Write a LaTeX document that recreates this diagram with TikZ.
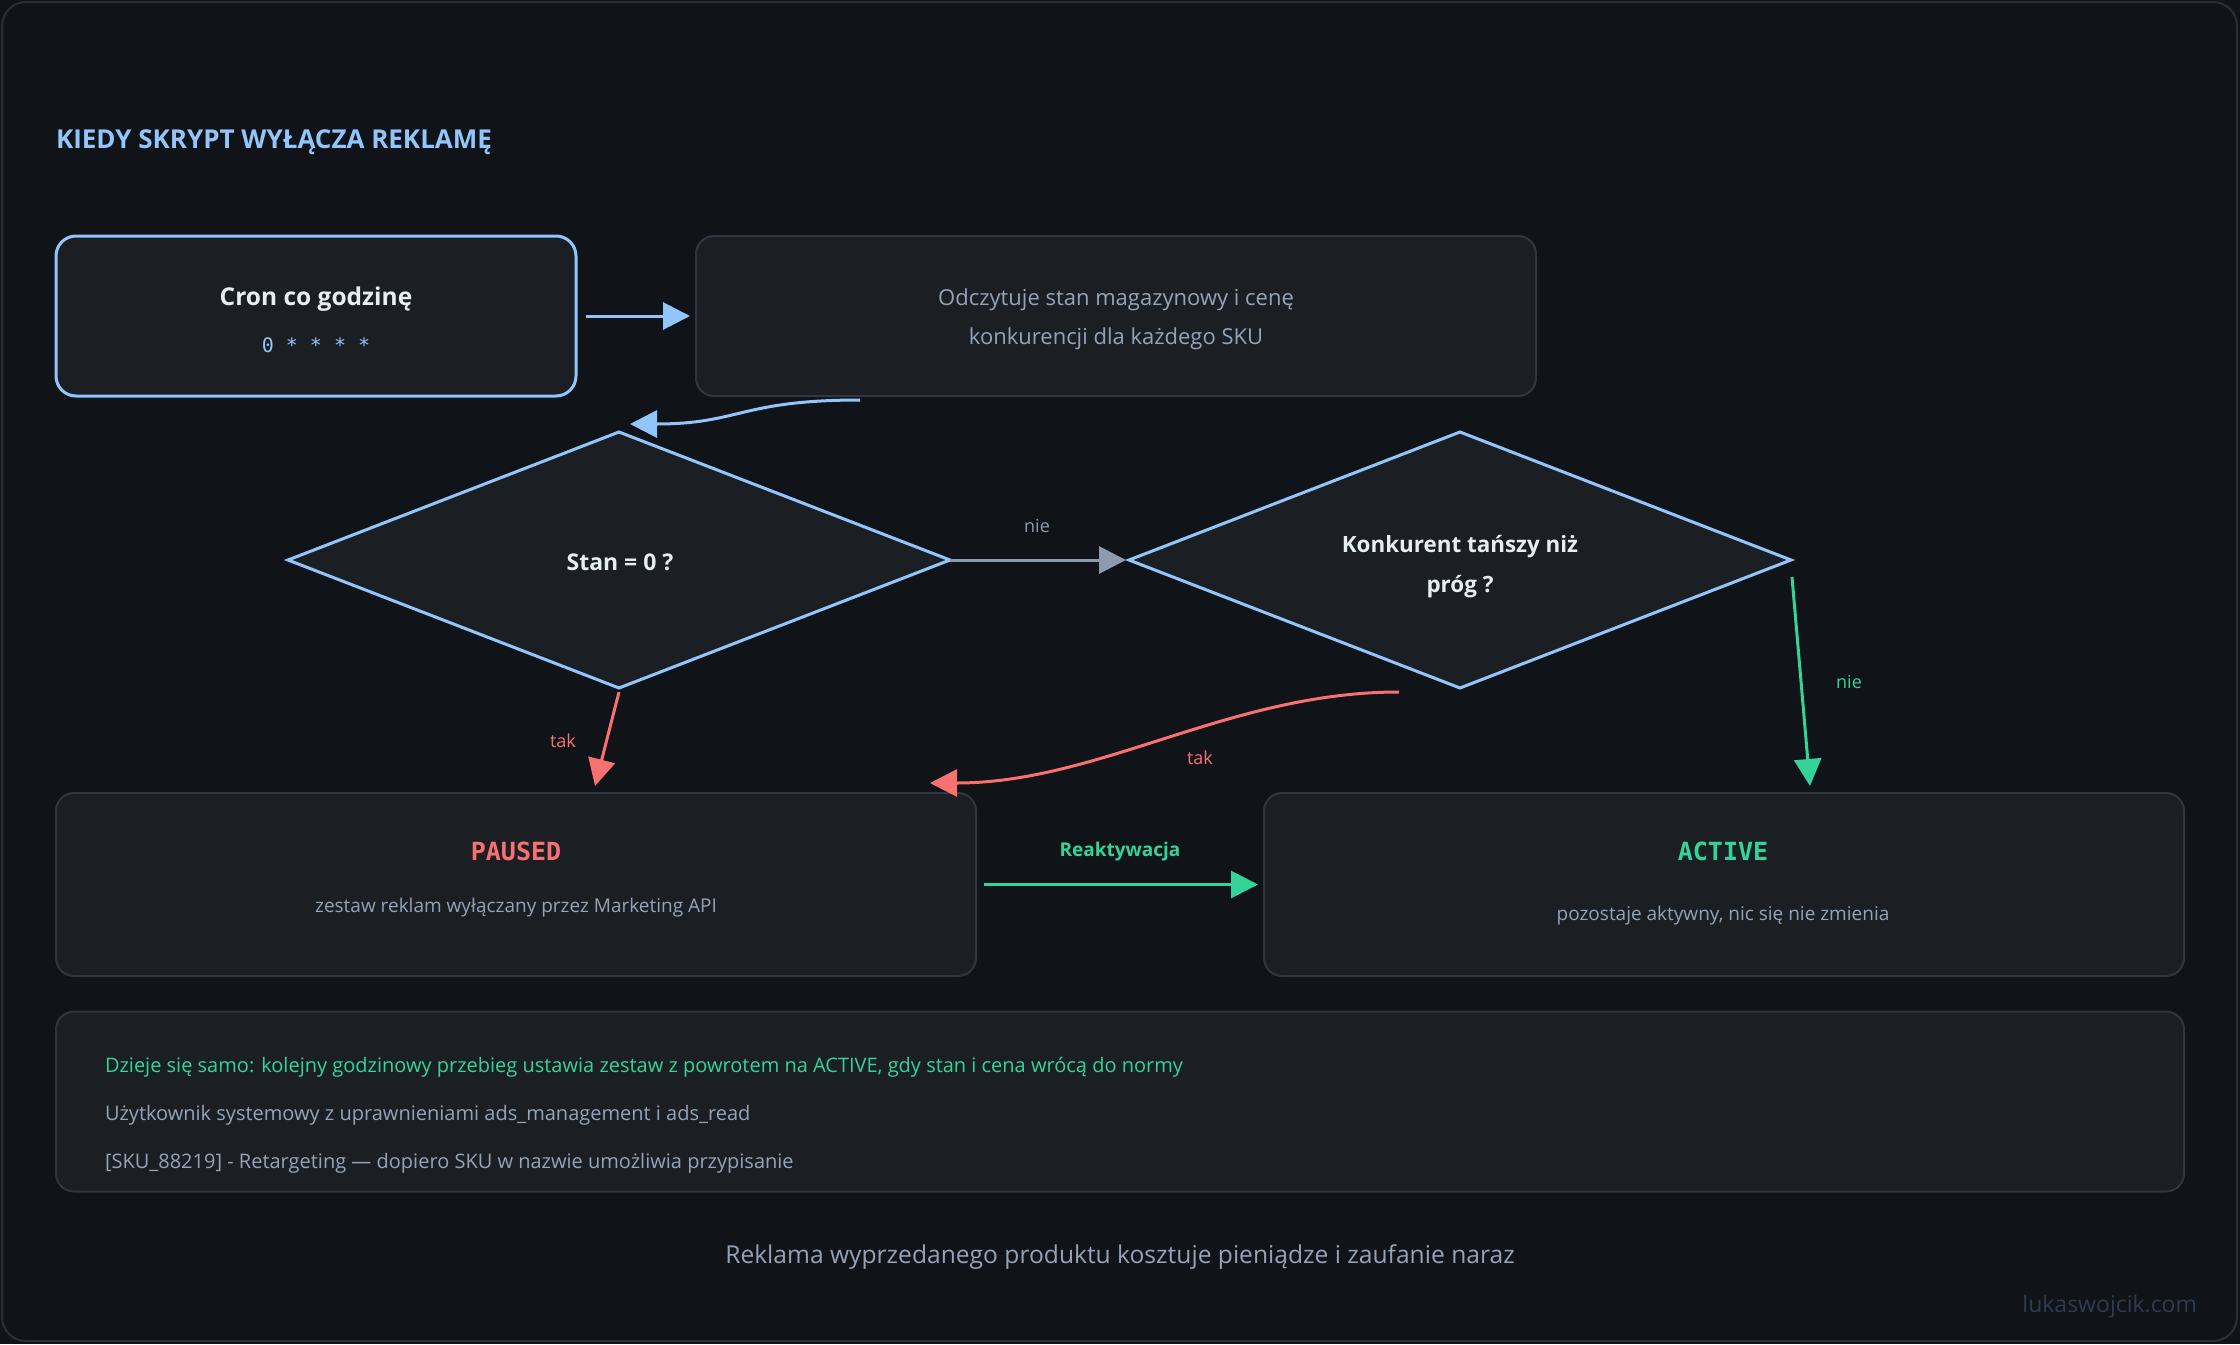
\documentclass[tikz,border=0pt]{standalone}
\usepackage{fontspec}
\setmainfont{Open Sans}
\newfontfamily\monofont{DejaVu Sans Mono}
\usetikzlibrary{arrows.meta,shapes.geometric,calc}
\definecolor{bgc}{HTML}{101317}
\definecolor{framec}{HTML}{2A3039}
\definecolor{boxfill}{HTML}{1B1F23}
\definecolor{boxline}{HTML}{2F3541}
\definecolor{blu}{HTML}{93C5FD}
\definecolor{redc}{HTML}{F87171}
\definecolor{grn}{HTML}{34D399}
\definecolor{greytxt}{HTML}{94A3B8}
\definecolor{greyarr}{HTML}{8E9BAE}
\definecolor{whitetxt}{HTML}{E6EDF3}
\definecolor{wmark}{HTML}{2E3B50}
\newcommand\fsz[1]{\fontsize{#1pt}{#1pt}\selectfont}
\begin{document}
\begin{tikzpicture}[x=1pt,y=-1pt,
  panel/.style={draw=boxline, fill=boxfill, line width=2pt, rounded corners=18pt, inner sep=0pt, outer sep=0pt},
  decision/.style={diamond, draw=blu, fill=boxfill, line width=3pt, minimum width=662pt, minimum height=256pt, inner sep=0pt, outer sep=0pt},
  txt/.style={inner sep=0pt, outer sep=0pt, anchor=base},
  conn/.style={line width=3pt, -{Triangle[length=27pt,width=27pt]}},
]
\useasboundingbox (0,0) rectangle (2240,1344);
\fill[bgc] (0,0) rectangle (2240,1344);
\draw[framec, line width=2pt, rounded corners=24pt] (2,2) rectangle (2237,1341);

% title
\node[txt, anchor=base west, text=blu] (title) at (56,148) {\fsz{26}\bfseries KIEDY SKRYPT WYŁĄCZA REKLAMĘ};

% top boxes
\node[panel, draw=blu, line width=3pt, rounded corners=20pt, minimum width=520pt, minimum height=160pt] (cron) at (316,316) {};
\node[txt, text=whitetxt] (crontitle) at (316,305) {\fsz{24.5}\bfseries Cron co godzinę};
\node[txt, text=blu] (croncode) at (316,352) {\fsz{20}\monofont 0 * * * *};

\node[panel, minimum width=840pt, minimum height=160pt] (read) at (1116,316) {};
\node[txt, text=greytxt] (read1) at (1116,305) {\fsz{22}Odczytuje stan magazynowy i cenę};
\node[txt, text=greytxt] (read2) at (1116,344) {\fsz{22}konkurencji dla każdego SKU};

% decisions
\node[decision] (d1) at (619,560) {};
\node[txt, text=whitetxt] (d1t) at (620,570) {\fsz{23}\bfseries Stan = 0 ?};
\node[decision] (d2) at (1460,560) {};
\node[txt, text=whitetxt] (d2t1) at (1460,552) {\fsz{22.4}\bfseries Konkurent tańszy niż};
\node[txt, text=whitetxt] (d2t2) at (1460,592) {\fsz{22.4}\bfseries próg ?};

% result boxes
\node[panel, minimum width=920pt, minimum height=183pt] (paused) at (516,884.5) {};
\node[txt, text=redc] (pausedt) at (516,860) {\fsz{25}\monofont\bfseries PAUSED};
\node[txt, text=greytxt] (pauseds) at (516,912) {\fsz{19}zestaw reklam wyłączany przez Marketing API};

\node[panel, minimum width=920pt, minimum height=183pt] (active) at (1724,884.5) {};
\node[txt, text=grn] (activet) at (1723,860) {\fsz{25}\monofont\bfseries ACTIVE};
\node[txt, text=greytxt] (actives) at (1723,920) {\fsz{19}pozostaje aktywny, nic się nie zmienia};

% note box
\node[panel, minimum width=2128pt, minimum height=180pt] (note) at (1120,1101.5) {};
\node[txt, anchor=base west, text=grn] (note1) at (105,1072) {\fsz{20}Dzieje się samo: kolejny godzinowy przebieg ustawia zestaw z powrotem na ACTIVE, gdy stan i cena wrócą do normy};
\node[txt, anchor=base west, text=greytxt] (note2) at (105,1120) {\fsz{20}Użytkownik systemowy z uprawnieniami ads\_management i ads\_read};
\node[txt, anchor=base west, text=greytxt] (note3) at (105,1168) {\fsz{20}[SKU\_88219] - Retargeting — dopiero SKU w nazwie umożliwia przypisanie};

% caption and watermark
\node[txt, text=greytxt] (caption) at (1120,1263) {\fsz{24.6}Reklama wyprzedanego produktu kosztuje pieniądze i zaufanie naraz};
\node[txt, anchor=base east, text=wmark] (wm) at (2197,1312) {\fsz{23}lukaswojcik.com};

% connectors
\draw[conn, blu] ($(cron.east)+(10,0)$) -- ($(read.west)+(-6,0)$);
\draw[conn, blu] ($(read.south west)+(164,4)$) .. controls +(-120,0) and +(110,0) .. ($(d1.north)+(11,-8)$);
\draw[conn, greyarr] (d1.east) -- ($(d2.west)+(-3,0)$);
\node[txt, text=greyarr] (lnie1) at (1037,532) {\fsz{18}nie};
\draw[conn, redc] ($(d1.south)+(0,4)$) -- ($(paused.north)+(79,-7)$);
\node[txt, text=redc] (ltak1) at (563,747) {\fsz{18}tak};
\draw[conn, redc] ($(d2.south)+(-61,4)$) .. controls +(-170,0) and +(170,0) .. ($(paused.north east)+(-46,-10)$);
\node[txt, text=redc] (ltak2) at (1200,764) {\fsz{18}tak};
\draw[conn, grn] ($(d2.east)+(1,17)$) -- ($(active.north east)+(-374,-7)$);
\node[txt, text=grn] (lnie2) at (1849,688) {\fsz{18}nie};
\draw[conn, grn] ($(paused.east)+(8,0)$) -- ($(active.west)+(-6,0)$);
\node[txt, text=grn] (lreak) at (1120,856) {\fsz{19}\bfseries Reaktywacja};
\end{tikzpicture}
\end{document}
